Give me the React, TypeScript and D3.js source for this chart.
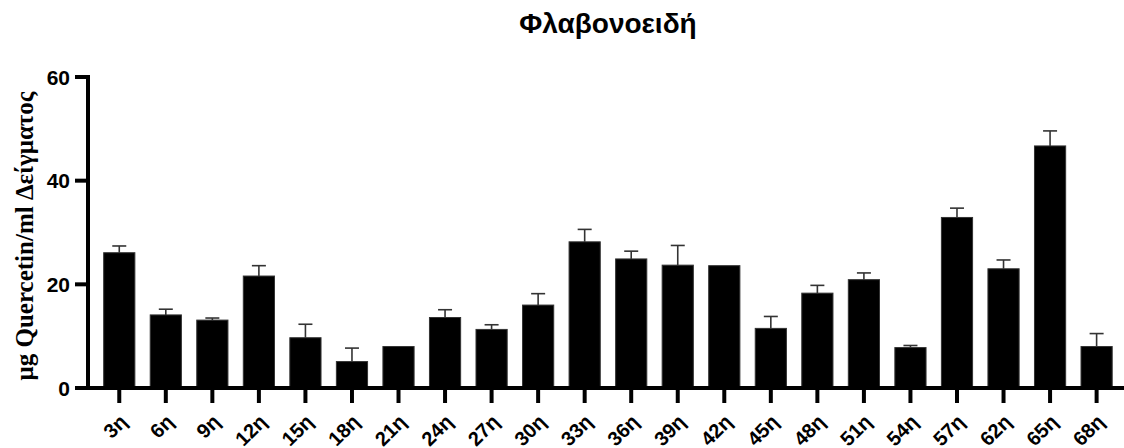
import React from "react";
import * as d3 from "d3";

const categories = ["3η","6η","9η","12η","15η","18η","21η","24η","27η","30η","33η","36η","39η","42η","45η","48η","51η","54η","57η","62η","65η","68η"];
const means = [26.1,14.1,13.1,21.6,9.7,5.1,8.0,13.6,11.3,16.0,28.2,24.9,23.7,23.6,11.5,18.3,20.9,7.8,32.9,23.0,46.7,8.0];
const errors = [1.3,1.1,0.4,2.0,2.6,2.6,0,1.5,0.9,2.2,2.4,1.5,3.8,0,2.3,1.5,1.3,0.4,1.8,1.7,2.9,2.5];
const yTicks = [0,20,40,60];
const title = "Φλαβονοειδή";
const yTitle = "μg Quercetin/ml Δείγματος";

export default function App() {
  const W = 1124, H = 448;
  const axisX = 88;
  const x = d3.scaleBand<string>().domain(categories).range([96, 96 + 22 * 46.54]).paddingInner(0.33).paddingOuter(0.165);
  const y = d3.scaleLinear().domain([0, 60]).range([388, 77]);
  const sans = "'Liberation Sans', Arial, sans-serif";
  return (
    <svg width={W} height={H} style={{ position: "absolute", left: 0, top: 0 }}>
      <rect width={W} height={H} fill="#fff" />
      <text x={608} y={33} textAnchor="middle" fontFamily={sans} fontWeight="bold" fontSize={28}>{title}</text>
      {categories.map((c, i) => {
        const bx = x(c)!;
        const bw = x.bandwidth();
        const cx = bx + bw / 2;
        return (
          <g key={c}>
            <rect x={bx} y={y(means[i])} width={bw} height={y(0) - y(means[i])} fill="#000" stroke="#333" strokeWidth={1} />
            {errors[i] > 0 && (
              <g stroke="#333" strokeWidth={1.6}>
                <line x1={cx} x2={cx} y1={y(means[i])} y2={y(means[i] + errors[i])} />
                <line x1={cx - 7} x2={cx + 7} y1={y(means[i] + errors[i])} y2={y(means[i] + errors[i])} />
              </g>
            )}
            <line x1={cx} x2={cx} y1={388} y2={403} stroke="#000" strokeWidth={4} />
            <text transform={`translate(${cx + 9},${423}) rotate(-45)`} textAnchor="end" fontFamily={sans} fontWeight="bold" fontSize={20}>{c}</text>
          </g>
        );
      })}
      <line x1={axisX - 2} x2={W} y1={388} y2={388} stroke="#000" strokeWidth={4} />
      <line x1={axisX} x2={axisX} y1={y(60) - 2} y2={390} stroke="#000" strokeWidth={4} />
      {yTicks.map((t) => (
        <g key={t}>
          <line x1={75} x2={axisX} y1={y(t)} y2={y(t)} stroke="#000" strokeWidth={4} />
          <text x={70} y={y(t)} dy="0.36em" textAnchor="end" fontFamily={sans} fontWeight="bold" fontSize={21}>{t}</text>
        </g>
      ))}
      <text transform={`translate(33,236) rotate(-90)`} textAnchor="middle" fontFamily="'Liberation Serif', 'Times New Roman', serif" fontWeight="bold" fontSize={25}>{yTitle}</text>
    </svg>
  );
}
